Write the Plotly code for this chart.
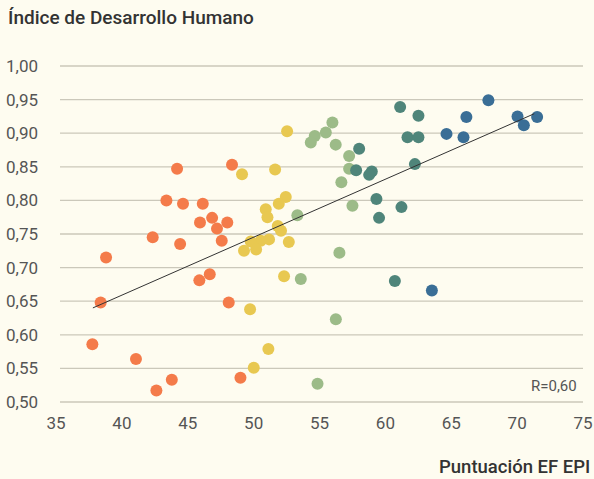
import plotly.graph_objects as go

# ---- data ----
orange_x = [44.19, 48.36, 43.38, 44.64, 46.14, 45.93, 46.85, 47.22, 48.00, 42.34, 44.42,
            47.58, 38.80, 38.39, 45.88, 46.67, 48.11, 37.76, 41.07, 43.79, 42.62, 49.00]
orange_y = [0.847, 0.853, 0.800, 0.795, 0.795, 0.767, 0.774, 0.758, 0.767, 0.745, 0.735,
            0.740, 0.715, 0.648, 0.681, 0.690, 0.648, 0.586, 0.564, 0.533, 0.517, 0.536]

yellow_x = [52.54, 49.12, 51.63, 52.44, 51.91, 50.92, 51.05, 51.83, 52.08, 52.67, 51.17,
            50.54, 49.78, 50.19, 49.27, 52.31, 49.73, 51.12, 50.01]
yellow_y = [0.903, 0.839, 0.846, 0.805, 0.795, 0.787, 0.775, 0.762, 0.755, 0.738, 0.742,
            0.740, 0.739, 0.727, 0.725, 0.687, 0.638, 0.579, 0.551]

lgreen_x = [55.98, 55.48, 54.64, 54.34, 56.23, 57.25, 57.25, 56.66, 57.50, 53.32, 56.51,
            53.58, 56.24, 54.85]
lgreen_y = [0.916, 0.901, 0.896, 0.886, 0.883, 0.866, 0.847, 0.827, 0.792, 0.778, 0.722,
            0.683, 0.623, 0.527]

teal_x = [61.12, 62.51, 61.68, 62.51, 58.01, 57.78, 58.97, 58.77, 62.24, 59.32, 61.22,
          59.52, 60.72]
teal_y = [0.939, 0.926, 0.894, 0.894, 0.877, 0.845, 0.843, 0.838, 0.854, 0.802, 0.790,
          0.774, 0.680]

blue_x = [67.82, 66.15, 70.03, 71.52, 70.51, 64.64, 65.93, 63.53]
blue_y = [0.949, 0.924, 0.925, 0.924, 0.912, 0.899, 0.894, 0.666]

trend_x = [37.8, 71.3]
trend_y = [0.640, 0.929]

x_ticks = [35, 40, 45, 50, 55, 60, 65, 70, 75]
y_ticks = [0.50, 0.55, 0.60, 0.65, 0.70, 0.75, 0.80, 0.85, 0.90, 0.95, 1.00]
y_tick_labels = ["0,50", "0,55", "0,60", "0,65", "0,70", "0,75", "0,80", "0,85", "0,90", "0,95", "1,00"]

title_text = "Índice de Desarrollo Humano"
x_title_text = "Puntuación EF EPI"
r_text = "R=0,60"

# ---- figure ----
BG = "#FEFCF0"
GRID = "#CBC8BA"
TICK = "#555555"
DARK = "#333333"
FONT = "Roboto"

fig = go.Figure()

groups = [
    (orange_x, orange_y, "#F47B4A"),
    (yellow_x, yellow_y, "#E8C851"),
    (lgreen_x, lgreen_y, "#9CBB88"),
    (teal_x, teal_y, "#4F857A"),
    (blue_x, blue_y, "#3A6E96"),
]
for xs, ys, col in groups:
    fig.add_trace(go.Scatter(x=xs, y=ys, mode="markers",
                             marker=dict(size=12, color=col, line=dict(width=0)),
                             showlegend=False, hoverinfo="x+y"))

fig.add_trace(go.Scatter(x=trend_x, y=trend_y, mode="lines",
                         line=dict(color=DARK, width=1), showlegend=False,
                         hoverinfo="skip"))

# horizontal gridlines, starting slightly inside the plot's left edge
grid_shapes = [
    dict(type="line", xref="paper", yref="y", x0=4/527, x1=1, y0=v, y1=v,
         line=dict(color=GRID, width=1.3), layer="below")
    for v in y_ticks
]

fig.update_layout(
    width=594, height=479,
    paper_bgcolor=BG, plot_bgcolor=BG,
    margin=dict(l=56, r=11, t=65, b=76, autoexpand=False),
    font=dict(family=FONT, color=TICK),
    title=dict(text=title_text, x=8/594, xanchor="left", xref="container",
               y=1 - 17/479, yanchor="middle", yref="container",
               font=dict(family=FONT, size=19, color=DARK, weight=500)),
    xaxis=dict(range=[35, 75], tickvals=x_ticks, showgrid=False, zeroline=False,
               showline=False, ticks="", tickfont=dict(size=17, color=TICK),
               ticklabelstandoff=8, automargin=False),
    yaxis=dict(range=[0.4985, 1.0015], tickvals=y_ticks, ticktext=y_tick_labels,
               showgrid=False, zeroline=False,
               showline=False, ticks="", tickfont=dict(size=17, color=TICK),
               ticklabelstandoff=17, automargin=False),
    shapes=grid_shapes,
    annotations=[
        dict(text=x_title_text, xref="paper", yref="paper", x=1 + 9/527, y=-64/338,
             xanchor="right", yanchor="middle", showarrow=False,
             font=dict(family=FONT, size=18.5, color=DARK, weight=500)),
        dict(text=r_text, xref="paper", yref="paper", x=1 - 4/527, y=17/338,
             xanchor="right", yanchor="middle", showarrow=False,
             font=dict(family=FONT, size=15, color=TICK)),
    ],
)

fig.write_html(
    "out.html",
    config={"displayModeBar": False},
    post_script="document.body.style.margin='0';document.body.style.padding='0';"
                "document.documentElement.style.background='" + BG + "';",
)
